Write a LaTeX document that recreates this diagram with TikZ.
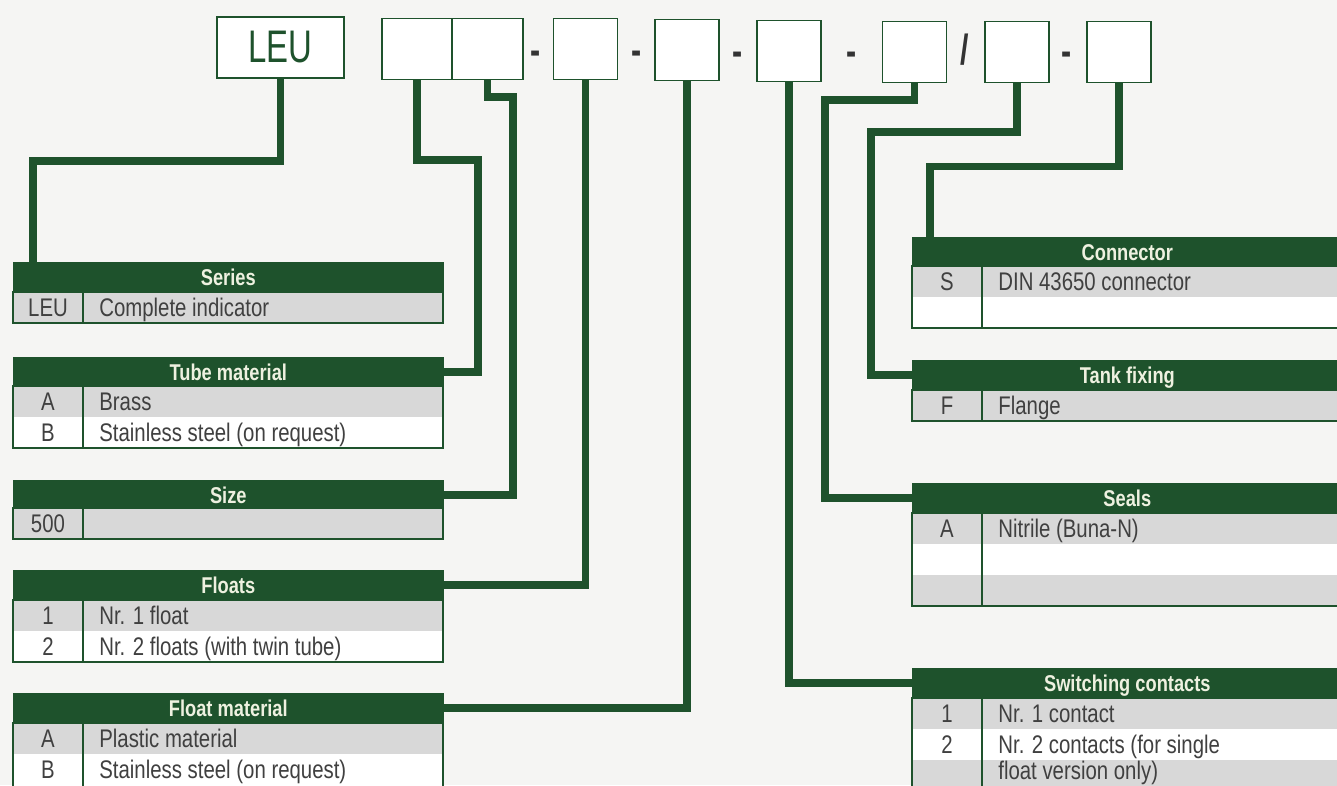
\documentclass[tikz,border=0pt]{standalone}
\usepackage{fontspec}
\setmainfont[FakeStretch=0.8]{Liberation Sans}
\newfontfamily\leufont[FakeStretch=0.72]{Liberation Sans}
\usetikzlibrary{calc}
\definecolor{leugreen}{RGB}{30,82,44}
\definecolor{rowgray}{RGB}{216,216,216}
\definecolor{paper}{RGB}{245,245,243}
\definecolor{headtext}{RGB}{238,241,224}
\definecolor{ink}{RGB}{64,64,64}

\begin{document}
\begin{tikzpicture}[x=0.02cm, y=-0.02cm,
  codebox/.style={draw=leugreen, line width=1.1pt, fill=white, minimum width=1.28cm, minimum height=1.22cm, inner sep=0pt},
  joiner/.style={text=ink!80!black, font=\leufont\bfseries\fontsize{24}{24}\selectfont, inner sep=0pt},
  head/.style={fill=leugreen, draw=leugreen, text=headtext, font=\fontsize{13}{13}\selectfont\bfseries, text height=9.4pt, text depth=0pt, minimum width=8.6cm, minimum height=0.58cm, inner sep=0pt, anchor=north west},
  keytext/.style={text=ink, font=\fontsize{14.5}{16}\selectfont, text height=10.4pt, text depth=0pt, inner sep=0pt},
  desctext/.style={keytext, anchor=west},
  tabframe/.style={draw=leugreen, line width=1.1pt},
  link/.style={draw=leugreen, line width=4.3pt}]
  \useasboundingbox (0,0) rectangle (1337,785);
  \clip (0,0) rectangle (1337,785);
  \fill[paper] (0,0) rectangle (1337,785);

  % order code boxes
  \node[codebox, minimum width=2.54cm, text=leugreen] (bleu) at (280.5,47.5) {\leufont\fontsize{26}{26}\selectfont LEU};
  \node[codebox, minimum width=1.4cm] (bmat) at (417,49) {};
  \node[codebox, minimum width=1.42cm] (bsize) at (487.5,49) {};
  \node[codebox] (bfloat) at (585.5,49) {};
  \node[codebox] (bfmat) at (687,50) {};
  \node[codebox] (bcont) at (789,51) {};
  \node[codebox] (bseal) at (914.5,52) {};
  \node[codebox] (bfix) at (1017,52) {};
  \node[codebox] (bconn) at (1119,52) {};
  \node[joiner] (j1) at (536,58) {-};
  \node[joiner] (j2) at (637,58) {-};
  \node[joiner] (j3) at (738,59) {-};
  \node[joiner] (j4) at (852,59) {-};
  \node[joiner] (j5) at (965,50) {/};
  \node[joiner] (j6) at (1067,59) {-};

  % table headers
  \foreach \nm/\ty/\ttl in {tseries/262/Series, ttube/357/Tube material, tsize/480/Size, tfloats/570/Floats, tfmat/693/Float material}
    \node[head] (\nm) at (13,\ty) {\ttl};
  \foreach \nm/\ty/\ttl in {tconn/237/Connector, tfix/360/Tank fixing, tseal/483/Seals, tcont/668/Switching contacts}
    \node[head] (\nm) at (912,\ty) {\ttl};

  % table rows
  \foreach \xa/\ty/\c in {13/292/rowgray, 13/386/rowgray, 13/417/white, 13/508/rowgray, 13/600/rowgray, 13/631/white, 13/723/rowgray, 13/754/white,
                          912/266/rowgray, 912/297/white, 912/390/rowgray, 912/513/rowgray, 912/544/white, 912/575/rowgray, 912/698/rowgray, 912/729/white, 912/760/rowgray}
    \fill[\c] (\xa,\ty) rectangle ++(430,31);
  \foreach \xa/\ya/\yb in {13/292/323, 13/386/448, 13/508/539, 13/600/662, 13/723/787, 912/266/328, 912/390/421, 912/513/606, 912/698/792} {
    \draw[tabframe] (\xa,\ya) rectangle (\xa+430,\yb);
    \draw[tabframe] (\xa+70,\ya) -- (\xa+70,\yb);
  }
  \foreach \xa/\ty/\k/\d in {13/292/LEU/Complete indicator, 13/386/A/Brass, 13/417/B/Stainless steel (on request), 13/600/1/Nr. 1 float, 13/631/2/Nr. 2 floats (with twin tube), 13/723/A/Plastic material, 13/754/B/Stainless steel (on request),
                             912/266/S/DIN 43650 connector, 912/390/F/Flange, 912/513/A/Nitrile (Buna-N), 912/698/1/Nr. 1 contact, 912/729/2/Nr. 2 contacts (for single} {
    \node[keytext] (k\xa-\ty) at (\xa+35,\ty+15) {\k};
    \node[desctext] (d\xa-\ty) at (\xa+86,\ty+15) {\d};
  }
  \node[keytext] (k13-508) at (48,523) {500};
  \node[desctext] (d912-760) at (998,770) {float version only)};

  % connectors
  \draw[link] (bleu.south) -- ++(0,82) -| ($(tseries.north west)+(20,0)$);
  \draw[link] (bmat.south) |- (478,160) |- (ttube.east);
  \draw[link] (bsize.south) |- (513,97) |- (tsize.east);
  \draw[link] (bfloat.south) |- (tfloats.east);
  \draw[link] (bfmat.south) |- (tfmat.east);
  \draw[link] (bcont.south) |- (tcont.west);
  \draw[link] (bseal.south) |- (825,100) |- (tseal.west);
  \draw[link] (bfix.south) |- (871,132) |- (tfix.west);
  \draw[link] (bconn.south) -- ++(0,83) -| ($(tconn.north west)+(18,0)$);
\end{tikzpicture}
\end{document}
